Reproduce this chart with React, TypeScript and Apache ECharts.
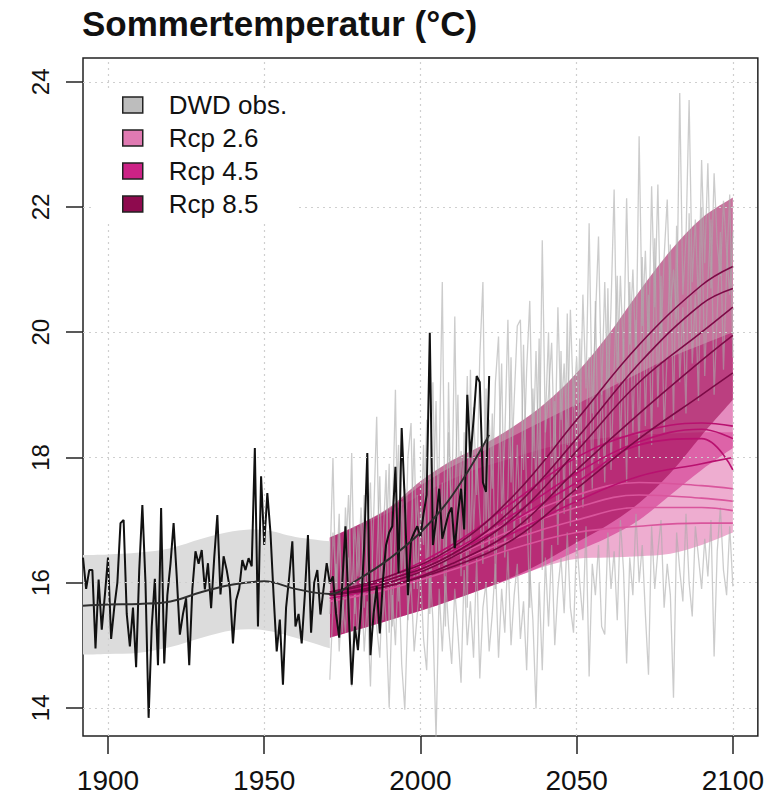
import React, { useEffect, useRef } from "react";
import * as echarts from "echarts";

const TITLE = "Sommertemperatur (°C)";
const X_TICKS = [1900, 1950, 2000, 2050, 2100];
const Y_TICKS = [14, 16, 18, 20, 22, 24];
const LEGEND_NAMES = ["DWD obs.", "Rcp 2.6", "Rcp 4.5", "Rcp 8.5"];

// observed summer temperature (DWD), annual, from 1892
const OBS_START = 1892;
const obsValues = [
  16.4, 15.9, 16.2, 16.2, 14.95, 16.05, 15.25, 15.8,
  16.4, 15.1, 15.6, 16.0, 16.95, 17.0, 15.5, 14.98, 15.6, 14.65,
  16.2, 17.24, 16.0, 13.84, 15.3, 16.06, 14.68, 17.19, 14.71, 15.8,
  16.3, 16.95, 16.1, 15.17, 15.5, 15.75, 14.68, 15.9, 16.5, 16.3,
  16.52, 15.89, 16.31, 15.59, 16.4, 17.08, 15.81, 16.42, 16.2, 15.9,
  15.03, 15.72, 15.9, 16.36, 16.2, 16.39, 16.26, 18.15, 15.3, 17.7,
  16.6, 17.43, 16.8, 15.8, 14.9, 15.41, 14.37, 15.6, 16.09, 16.66,
  15.3, 15.5, 15.03, 15.8, 16.76, 15.2, 16.0, 16.2, 15.49, 15.9,
  16.31, 15.99, 16.1, 15.5, 15.12, 16.0, 16.9, 15.6, 14.37, 15.3,
  14.92, 15.6, 16.6, 18.07, 14.84, 15.5, 15.94, 15.19, 16.04, 16.6,
  16.8, 16.9, 17.85, 16.15, 18.47, 17.3, 15.8, 16.68, 16.8, 16.9,
  16.73, 17.1, 17.4, 19.99, 16.6, 17.0, 17.5, 16.7, 16.9, 17.1,
  17.2, 16.55, 17.1, 17.5, 16.85, 19.0, 18.0, 18.6, 19.3, 19.2,
  17.6, 17.45, 19.3,
];
const obsBandYears = [1892, 1900, 1910, 1920, 1930, 1940, 1950, 1960, 1971];
const obsBandLower = [14.85, 14.86, 14.88, 14.97, 15.12, 15.24, 15.24, 15.12, 14.95];
const obsBandUpper = [16.44, 16.45, 16.48, 16.55, 16.7, 16.82, 16.84, 16.73, 16.66];
const obsSmoothYears = [1892, 1900, 1910, 1920, 1930, 1940, 1950, 1960, 1971, 1980, 1990, 2000, 2010, 2022];
const obsSmoothValues = [15.63, 15.65, 15.66, 15.7, 15.85, 15.97, 16.02, 15.9, 15.82, 16.05, 16.38, 16.8, 17.38, 18.36];

// simulated annual summer temperatures (grey), from 1971
const MODEL_START = 1971;
const modelGray1 = [
  16.2, 17.99, 15.6, 16.8, 15.4, 17.2, 16.0, 18.07, 15.5, 16.9,
  15.8, 17.4, 16.2, 15.3, 17.0, 18.65, 15.9, 16.6, 17.8, 15.2,
  16.9, 19.08, 15.7, 17.3, 16.1, 18.0, 18.55, 15.9, 17.4, 16.5,
  18.2, 16.0, 17.6, 19.2, 16.4, 17.9, 20.8, 16.2, 18.4, 17.0,
  20.25, 16.6, 18.1, 17.2, 19.3, 16.5, 18.8, 17.4, 19.6, 20.8,
  16.9, 18.6, 17.5, 19.2, 19.93, 17.1, 18.3, 20.2, 17.6, 18.9,
  20.1, 20.2, 17.8, 19.4, 20.5, 18.0, 19.7, 17.6, 21.47, 18.4,
  19.0, 19.83, 17.9, 20.4, 18.6, 19.5, 18.2, 20.36, 18.8, 19.6,
  18.3, 20.6, 19.1, 21.74, 18.7, 20.2, 21.53, 19.0, 20.8, 18.9,
  20.4, 22.28, 19.2, 20.9, 19.6, 22.14, 19.8, 21.0, 19.5, 23.13,
  20.1, 21.3, 19.7, 22.33, 20.4, 22.36, 19.9, 21.2, 22.12, 20.3,
  21.0, 20.2, 23.82, 20.6, 21.5, 23.71, 20.8, 21.8, 20.4, 22.75,
  21.1, 22.7, 20.7, 22.54, 21.4, 20.9, 22.1, 21.3, 20.6, 21.6,
];
const modelGray2 = [
  14.45, 15.6, 16.3, 14.9, 15.8, 15.2, 16.4, 14.34, 15.9, 15.1,
  16.2, 14.9, 15.7, 14.34, 16.0, 15.3, 14.8, 16.1, 15.4, 14.0,
  15.8, 15.0, 16.4, 14.7, 13.97, 15.6, 16.0, 14.9, 15.5, 16.2,
  15.1, 14.6, 16.3, 15.4, 13.5, 15.9, 14.9, 16.1, 15.3, 14.7,
  15.9, 15.2, 14.4, 16.2, 15.0, 15.7, 14.8, 16.4, 14.47, 15.6,
  16.0, 14.9, 15.5, 16.3, 14.8, 15.9, 15.2, 16.5, 15.0, 15.8,
  16.3, 15.1, 15.7, 14.6, 16.2, 15.4, 13.99, 16.0, 14.6, 16.4,
  15.3, 16.6, 15.0, 15.9, 16.4, 15.51, 16.8, 15.6, 15.2, 16.7,
  16.0, 15.4, 16.9, 14.5, 16.3, 15.8, 16.6, 15.3, 15.17, 16.8,
  15.9, 16.5, 15.4, 17.0, 16.2, 14.71, 16.4, 15.8, 17.1, 16.0,
  16.6, 15.5, 14.53, 16.9, 15.9, 16.5, 17.0, 15.6, 16.3, 15.8,
  14.16, 16.8, 16.2, 15.7, 17.1, 16.0, 15.46, 16.9, 16.4, 15.9,
  16.7, 16.1, 17.0, 14.82, 16.5, 17.2, 16.2, 15.8, 16.9, 15.94,
];
const modelGray3 = [
  15.5, 16.8, 16.0, 17.1, 15.2, 16.4, 17.4, 15.8, 16.9, 16.1,
  17.2, 15.6, 16.8, 17.6, 15.5, 16.3, 17.7, 15.4, 16.5, 17.9,
  15.3, 17.0, 18.2, 16.1, 17.5, 15.4, 16.8, 18.3, 15.9, 17.2,
  16.6, 18.6, 15.5, 17.0, 18.9, 16.2, 17.6, 15.3, 19.2, 16.4,
  17.3, 19.0, 16.1, 18.4, 15.6, 19.4, 16.8, 18.0, 17.1, 16.3,
  19.1, 16.5, 18.7, 15.9, 17.8, 19.5, 16.4, 17.4, 19.6, 16.7,
  18.2, 16.9, 19.8, 17.3, 15.6, 19.1, 17.5, 19.9, 16.2, 18.6,
  20.0, 17.4, 18.9, 16.6, 19.7, 17.1, 20.3, 16.9, 19.3, 17.8,
  19.9, 17.2, 18.5, 19.6, 17.5, 20.5, 17.9, 19.2, 17.6, 20.7,
  17.8, 19.4, 20.9, 18.1, 19.9, 17.6, 20.8, 18.4, 20.2, 18.0,
  21.2, 18.5, 20.6, 18.2, 21.5, 18.8, 20.9, 18.4, 19.7, 21.4,
  18.6, 21.7, 19.2, 20.4, 18.7, 21.9, 19.5, 20.6, 18.9, 22.0,
  19.3, 20.8, 21.8, 19.0, 20.3, 21.6, 19.4, 21.0, 22.2, 19.6,
];

// scenario ranges
const bandYears = [1971, 1980, 1990, 2000, 2010, 2020, 2030, 2040, 2050, 2060, 2070, 2080, 2090, 2100];
const rcp26Lower = [15.12, 15.25, 15.4, 15.55, 15.72, 15.9, 16.08, 16.26, 16.38, 16.4, 16.42, 16.46, 16.6, 16.8];
const rcp26Upper = [16.72, 16.9, 17.12, 17.4, 17.65, 17.85, 18.0, 18.15, 18.25, 18.32, 18.36, 18.38, 18.4, 18.4];
const rcp45Lower = [15.12, 15.25, 15.4, 15.55, 15.72, 15.9, 16.08, 16.28, 16.5, 16.72, 17.0, 17.4, 17.8, 18.15];
const rcp45Upper = [16.72, 16.92, 17.18, 17.55, 17.85, 18.1, 18.35, 18.6, 18.85, 19.1, 19.35, 19.6, 19.8, 20.0];
const rcp85Lower = [15.12, 15.25, 15.4, 15.55, 15.72, 15.9, 16.1, 16.35, 16.64, 16.92, 17.27, 17.75, 18.35, 18.92];
const rcp85Upper = [16.72, 16.92, 17.2, 17.62, 17.95, 18.2, 18.5, 18.87, 19.35, 19.95, 20.65, 21.3, 21.82, 22.15];

// smoothed ensemble members
const ensYears = [1971, 1990, 2010, 2030, 2050, 2070, 2090, 2100];
const rcp85Lines = [
  [15.85, 16.1, 16.55, 17.4, 18.6, 19.8, 20.75, 21.05],
  [15.85, 16.05, 16.45, 17.2, 18.3, 19.5, 20.45, 20.7],
  [15.8, 16.0, 16.4, 17.05, 18.1, 19.2, 20.0, 20.4],
  [15.8, 15.95, 16.3, 16.85, 17.8, 18.7, 19.55, 19.95],
  [15.8, 15.95, 16.25, 16.7, 17.5, 18.3, 19.0, 19.35],
];
const rcp45Lines = [
  [15.8, 16.1, 16.6, 17.3, 18.0, 18.4, 18.55, 18.5],
  [15.8, 16.05, 16.5, 17.1, 17.75, 18.25, 18.45, 18.3],
  [15.8, 16.0, 16.45, 17.0, 17.6, 18.2, 18.3, 17.8],
  [15.75, 15.95, 16.3, 16.8, 17.3, 17.7, 17.9, 18.0],
];
const rcp26Lines = [
  [15.8, 16.05, 16.5, 17.0, 17.4, 17.6, 17.55, 17.5],
  [15.75, 16.0, 16.4, 16.85, 17.2, 17.4, 17.35, 17.3],
  [15.75, 15.95, 16.3, 16.7, 17.0, 17.2, 17.2, 17.15],
  [15.7, 15.9, 16.2, 16.55, 16.8, 16.9, 16.95, 16.95],
];

const FONT = "'Liberation Sans', Arial, Helvetica, sans-serif";
const COLORS = {
  obsSwatch: "#bdbdbd",
  obsBand: "#dcdcdc",
  obsLine: "#111111",
  obsSmooth: "#2e2e2e",
  gray: "rgba(170,170,170,0.6)",
  r26Swatch: "#e07ab2",
  r45Swatch: "#cc2286",
  r85Swatch: "#8e0a4e",
  r26Band: "rgba(227,119,176,0.6)",
  r45Band: "rgba(204,26,128,0.5)",
  r85Band: "rgba(153,0,76,0.55)",
  r26Line: "#d9559c",
  r45Line: "#b8116f",
  r85Line: "#7c0a46",
};

const pairs = (xs: number[], ys: number[]) => xs.map((x, i) => [x, ys[i]]);
const annual = (start: number, vals: number[]) => vals.map((v, i) => [start + i, v]);

// Catmull-Rom -> cubic bezier segments through already projected pixel points
function curve(pts: number[][]): string {
  let d = "";
  for (let i = 0; i < pts.length - 1; i++) {
    const p0 = pts[i - 1] || pts[i];
    const p1 = pts[i];
    const p2 = pts[i + 1];
    const p3 = pts[i + 2] || pts[i + 1];
    const c1x = p1[0] + (p2[0] - p0[0]) / 6;
    const c1y = p1[1] + (p2[1] - p0[1]) / 6;
    const c2x = p2[0] - (p3[0] - p1[0]) / 6;
    const c2y = p2[1] - (p3[1] - p1[1]) / 6;
    d += ` C${c1x.toFixed(2)},${c1y.toFixed(2)} ${c2x.toFixed(2)},${c2y.toFixed(2)} ${p2[0].toFixed(2)},${p2[1].toFixed(2)}`;
  }
  return d;
}

function band(name: string, years: number[], lower: number[], upper: number[], color: string) {
  return {
    type: "custom", name, silent: true, clip: true,
    data: years.map((y, i) => [y, lower[i], upper[i]]),
    encode: { x: 0, y: [1, 2] },
    renderItem: (params: any, api: any) => {
      if (params.dataIndex !== 0) return null;
      const top = years.map((y, i) => api.coord([y, upper[i]]));
      const bot = years.map((y, i) => api.coord([y, lower[i]])).reverse();
      const d =
        `M${top[0][0].toFixed(2)},${top[0][1].toFixed(2)}` + curve(top) +
        ` L${bot[0][0].toFixed(2)},${bot[0][1].toFixed(2)}` + curve(bot) + " Z";
      return { type: "path", shape: { pathData: d }, style: { fill: color, stroke: null } };
    },
  };
}

function lines(name: string, sets: number[][], color: string) {
  return sets.map((vals) => ({
    type: "line", name, silent: true, symbol: "none", smooth: 0.4,
    data: pairs(ensYears, vals),
    lineStyle: { color, width: 1.6 },
  }));
}

function buildOption() {
  const series: any[] = [];
  [modelGray1, modelGray2, modelGray3].forEach((vals) => {
    series.push({
      type: "line", name: "Modelle", silent: true, symbol: "none",
      data: annual(MODEL_START, vals),
      lineStyle: { color: COLORS.gray, width: 1.3 },
    });
  });
  series.push(band("Rcp 2.6", bandYears, rcp26Lower, rcp26Upper, COLORS.r26Band));
  series.push(band("Rcp 4.5", bandYears, rcp45Lower, rcp45Upper, COLORS.r45Band));
  series.push(band("Rcp 8.5", bandYears, rcp85Lower, rcp85Upper, COLORS.r85Band));
  series.push(...lines("Rcp 2.6", rcp26Lines, COLORS.r26Line));
  series.push(...lines("Rcp 4.5", rcp45Lines, COLORS.r45Line));
  series.push(...lines("Rcp 8.5", rcp85Lines, COLORS.r85Line));
  series.push(band("DWD obs.", obsBandYears, obsBandLower, obsBandUpper, COLORS.obsBand));
  series.push({
    type: "line", name: "DWD obs.", silent: true, symbol: "none",
    data: annual(OBS_START, obsValues),
    lineStyle: { color: COLORS.obsLine, width: 2 },
  });
  series.push({
    type: "line", name: "DWD obs.", silent: true, symbol: "none", smooth: 0.4,
    data: pairs(obsSmoothYears, obsSmoothValues),
    lineStyle: { color: COLORS.obsSmooth, width: 2 },
    markLine: {
      silent: true, symbol: ["none", "none"], label: { show: false },
      lineStyle: { color: "#cfcfcf", type: [2, 4], width: 1.2 },
      emphasis: { disabled: true },
      data: [
        ...X_TICKS.map((v) => ({ xAxis: v })),
        ...Y_TICKS.map((v) => ({ yAxis: v })),
      ],
    },
  });

  const swatch = (c: string) => ({ color: c, borderColor: "#222", borderWidth: 1.5 });
  const swatchColors = [COLORS.obsSwatch, COLORS.r26Swatch, COLORS.r45Swatch, COLORS.r85Swatch];

  return {
    animation: false,
    backgroundColor: "#ffffff",
    title: {
      text: TITLE, left: 77, top: 1,
      textStyle: { fontFamily: FONT, fontSize: 35, fontWeight: "bold", color: "#111" },
    },
    legend: {
      orient: "vertical", left: 95, top: 88, padding: [4, 10, 4, 27],
      backgroundColor: "#ffffff",
      itemWidth: 20, itemHeight: 16, itemGap: 7, icon: "rect",
      selectedMode: false, z: 20,
      textStyle: { fontFamily: FONT, fontSize: 26, color: "#111", lineHeight: 26, padding: [0, 0, 0, 21] },
      data: LEGEND_NAMES.map((n, i) => ({ name: n, icon: "rect", itemStyle: swatch(swatchColors[i]) })),
    },
    grid: {
      left: 83, right: 6, top: 58, bottom: 68, show: true,
      borderColor: "#222", borderWidth: 1.5, backgroundColor: "transparent",
    },
    xAxis: {
      type: "value", min: 1892, max: 2108,
      axisLine: { show: false },
      splitLine: { show: false },
      axisTick: { show: true, length: 18, customValues: X_TICKS, lineStyle: { color: "#222", width: 1.5 } },
      axisLabel: {
        customValues: X_TICKS, margin: 30, fontFamily: FONT, fontSize: 28, color: "#111",
        formatter: (v: number) => String(v),
      },
    },
    yAxis: {
      type: "value", min: 13.55, max: 24.38,
      axisLine: { show: false },
      splitLine: { show: false },
      axisTick: { show: true, length: 17, customValues: Y_TICKS, lineStyle: { color: "#222", width: 1.5 } },
      axisLabel: {
        customValues: Y_TICKS, rotate: 90, margin: 31, fontFamily: FONT, fontSize: 24, color: "#111",
        formatter: (v: number) => String(v),
      },
    },
    series,
  };
}

export default function App() {
  const ref = useRef<HTMLDivElement>(null);
  useEffect(() => {
    if (!ref.current) return;
    const chart = echarts.init(ref.current, null, { renderer: "svg" });
    chart.setOption(buildOption() as any);
    return () => chart.dispose();
  }, []);
  return (
    <div
      ref={ref}
      style={{ position: "absolute", left: 0, top: 0, width: 767, height: 804, background: "#fff" }}
    />
  );
}
